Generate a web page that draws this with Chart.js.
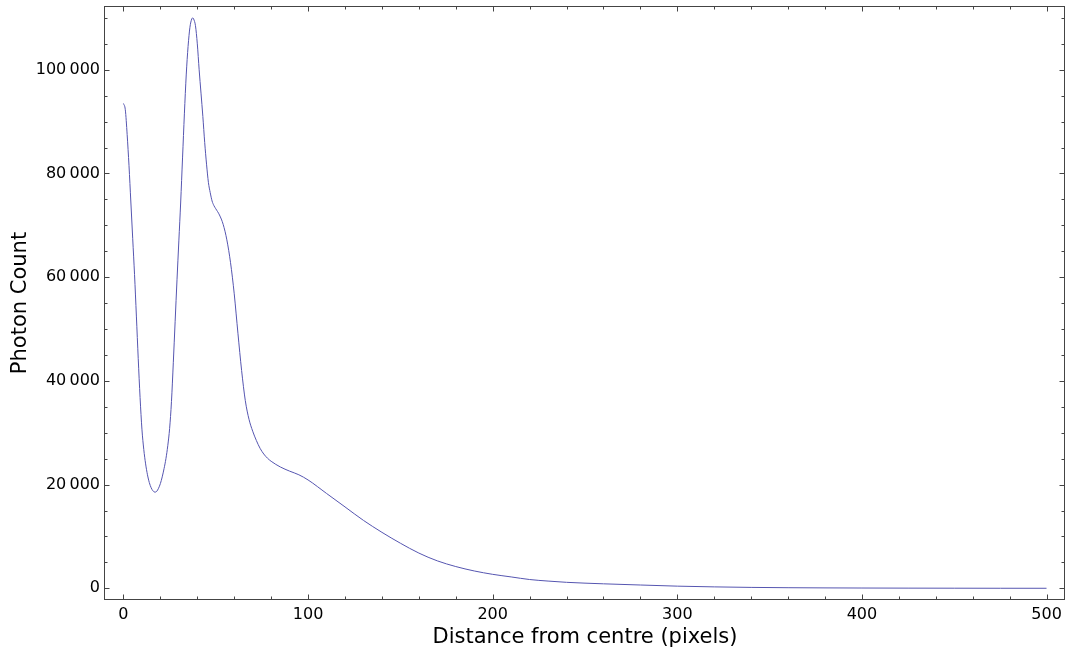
<!DOCTYPE html>
<html><head><meta charset="utf-8">
<script src="https://cdn.jsdelivr.net/npm/chart.js@4/dist/chart.umd.min.js"></script>
<style>html,body{margin:0;padding:0;background:#fff;}#wrap{width:1067px;height:653px;}</style>
</head><body><div id="wrap"><canvas id="c" width="1067" height="653"></canvas></div>
<script>
const distance = [0,1,2,3,4,5,6,7,8,9,10,11,12,13,14,15,16,17,18,19,20,21,22,23,24,25,26,27,28,29,30,31,32,33,34,35,36,37,37.6,38,39,40,41,42,43,44,45,46,47,48,49,50,52,54,56,58,60,62,64,66,68,70,72,74,76,78,80,85,90,95,100,110,120,130,140,150,160,170,180,190,200,210,220,230,240,250,260,280,300,320,340,360,380,400,425,450,475,500];
const photonCount = [93500,92300,87500,81500,74500,67500,60500,52500,44300,36800,30700,26800,24000,21900,20400,19400,18800,18550,18700,19300,20200,21500,23100,25000,27500,30800,36000,43500,51500,59500,67000,74500,83000,91500,99000,104500,108200,109800,110000,109800,108500,105000,100000,95500,91000,86000,81800,78300,76300,74700,73800,73200,72000,70200,67200,62800,56800,49200,42000,36200,32600,30300,28500,27000,25900,25100,24500,23400,22600,21900,20900,18300,15700,13100,10800,8700,6800,5300,4200,3350,2700,2200,1700,1400,1160,1000,870,640,420,280,180,120,85,60,40,25,15,10];
const xTickValues = [0,100,200,300,400,500];
const yTickValues = [0,20000,40000,60000,80000,100000];
const xMinorTicks = [20,40,60,80,120,140,160,180,220,240,260,280,320,340,360,380,420,440,460,480];
const yMinorTicks = [5000,10000,15000,25000,30000,35000,45000,50000,55000,65000,70000,75000,85000,90000,95000,105000,110000];
const xTitle = 'Distance from centre (pixels)';
const yTitle = 'Photon Count';

const FONT = 'DejaVu Sans';
const fmt = v => String(v).replace(/\B(?=(\d{3})+(?!\d))/g, '\u2009');

const framePlugin = {
  id: 'frame',
  afterDatasetsDraw(chart) {
    const {ctx, chartArea: a, scales: {x, y}} = chart;
    ctx.save();
    ctx.strokeStyle = '#444';
    ctx.lineWidth = 1;
    const L = Math.round(a.left) - 0.5, R = Math.round(a.right) - 0.5;
    const T = Math.round(a.top) + 0.5, B = Math.round(a.bottom) - 0.5;
    ctx.strokeRect(L, T, R - L, B - T);
    ctx.beginPath();
    const xt = (v, len) => {
      const px = Math.round(x.getPixelForValue(v)) + 0.5;
      ctx.moveTo(px, B); ctx.lineTo(px, B - len);
      ctx.moveTo(px, T); ctx.lineTo(px, T + len);
    };
    const yt = (v, len) => {
      const py = Math.round(y.getPixelForValue(v)) + 0.5;
      ctx.moveTo(L, py); ctx.lineTo(L + len, py);
      ctx.moveTo(R, py); ctx.lineTo(R - len, py);
    };
    xTickValues.forEach(v => xt(v, 5));
    xMinorTicks.forEach(v => xt(v, 3));
    yTickValues.forEach(v => yt(v, 5));
    yMinorTicks.forEach(v => yt(v, 3));
    ctx.stroke();
    ctx.restore();
  }
};

new Chart(document.getElementById('c'), {
  type: 'line',
  data: {
    datasets: [{
      data: distance.map((d, i) => ({x: d, y: photonCount[i]})),
      borderColor: '#5555b0',
      borderWidth: 1,
      pointRadius: 0,
      fill: false,
      cubicInterpolationMode: 'monotone'
    }]
  },
  options: {
    responsive: false,
    animation: false,
    devicePixelRatio: 1,
    layout: {padding: {top: 6, right: 2, left: 0, bottom: 0}},
    plugins: {legend: {display: false}, tooltip: {enabled: false}},
    scales: {
      x: {
        type: 'linear', min: -10, max: 510,
        afterBuildTicks: s => { s.ticks = xTickValues.map(v => ({value: v})); },
        afterFit: s => { s.height = 53; s.paddingLeft = 0; s.paddingRight = 0; },
        grid: {display: false, drawTicks: false},
        border: {display: false},
        ticks: {color: '#000', font: {family: FONT, size: 16}, padding: 5, maxRotation: 0, autoSkip: false, callback: v => fmt(v)},
        title: {display: true, text: xTitle, color: '#000', font: {family: FONT, size: 21}, padding: {top: 0, bottom: 3}}
      },
      y: {
        type: 'linear', min: -2250, max: 112300,
        afterBuildTicks: s => { s.ticks = yTickValues.map(v => ({value: v})); },
        afterFit: s => { s.width = 105; s.paddingTop = 0; s.paddingBottom = 0; },
        grid: {display: false, drawTicks: false},
        border: {display: false},
        ticks: {color: '#000', font: {family: FONT, size: 16}, padding: 5, autoSkip: false, callback: v => fmt(v)},
        title: {display: true, text: yTitle, color: '#000', font: {family: FONT, size: 21}, padding: {top: 8, bottom: 0}}
      }
    }
  },
  plugins: [framePlugin]
});
</script></body></html>
